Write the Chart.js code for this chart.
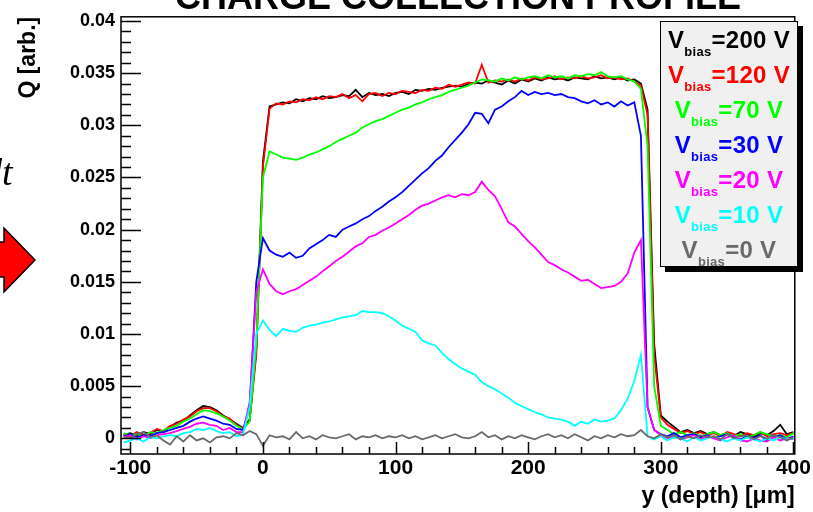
<!DOCTYPE html>
<html>
<head>
<meta charset="utf-8">
<title>Charge collection profile</title>
<script src="https://cdn.jsdelivr.net/npm/chart.js@4.4.1/dist/chart.umd.min.js"></script>
<style>
  html, body { margin: 0; padding: 0; background: #fff; }
  .page { position: relative; width: 813px; height: 512px; overflow: hidden; font-family: "Liberation Sans", Arial, sans-serif; }
  .page canvas { position: absolute; left: 0; top: 0; }
  .slide-title { position: absolute; left: 458px; top: -21px; transform: translateX(-50%); font-size: 36px; line-height: 36px; font-weight: 700; white-space: nowrap; color: #000; }
  .slide-dt { position: absolute; left: -17px; top: 150px; font-family: "Liberation Serif", "Times New Roman", serif; font-style: italic; font-size: 38px; line-height: 44px; color: #000; }
  .slide-arrow { position: absolute; left: 0; top: 0; }
  .legend { position: absolute; left: 660px; top: 21px; width: 136px; height: 244px; background: #f0f0f0; border: 1.5px solid #000; box-shadow: 5px 5px 0 #000; text-align: center; }
  .legend__row { height: 35px; line-height: 35px; font-size: 24px; font-weight: 700; white-space: nowrap; letter-spacing: 0.3px; }
  .legend__sub { position: relative; top: 8px; font-size: 13px; }
</style>
</head>
<body>
<div class="page" id="page">
  <canvas id="profile" width="813" height="512"></canvas>
  <div class="slide-title">CHARGE COLLECTION PROFILE</div>
  <div class="slide-dt">dt</div>
  <svg class="slide-arrow" width="60" height="320">
    <polygon points="-5,242 4,242 4,228 35,260 4,292 4,277 -5,277" fill="#ff0000" stroke="#000" stroke-width="1.5" stroke-linejoin="miter"></polygon>
  </svg>
  <div class="legend" id="legend"></div>
</div>
<script>
// depth in um, bin centres every 5 um
const depth = [
  -105, -100, -95, -90, -85, -80, -75, -70, -65, -60,
  -55, -50, -45, -40, -35, -30, -25, -20, -15, -10,
  -5, 0, 5, 10, 15, 20, 25, 30, 35, 40,
  45, 50, 55, 60, 65, 70, 75, 80, 85, 90,
  95, 100, 105, 110, 115, 120, 125, 130, 135, 140,
  145, 150, 155, 160, 165, 170, 175, 180, 185, 190,
  195, 200, 205, 210, 215, 220, 225, 230, 235, 240,
  245, 250, 255, 260, 265, 270, 275, 280, 285, 290,
  295, 300, 305, 310, 315, 320, 325, 330, 335, 340,
  345, 350, 355, 360, 365, 370, 375, 380, 385, 390,
  395, 400,
];

const q200 = [
  0.0003, 0.0005, 0.0002, 0.0006, 0.0004, 0.0008, 0.0006, 0.0011, 0.0015, 0.0017,
  0.0022, 0.0027, 0.0031, 0.0030, 0.0027, 0.0022, 0.0018, 0.0014, 0.0010, 0.0018,
  0.0085, 0.0265, 0.0318, 0.0320, 0.0322, 0.0321, 0.0325, 0.0323, 0.0326, 0.0325,
  0.0328, 0.0326, 0.0327, 0.0329, 0.0328, 0.0334, 0.0327, 0.0331, 0.0329, 0.0330,
  0.0328, 0.0331, 0.0332, 0.0330, 0.0334, 0.0333, 0.0335, 0.0334, 0.0336, 0.0337,
  0.0338, 0.0337, 0.0340, 0.0341, 0.0340, 0.0343, 0.0341, 0.0339, 0.0343, 0.0340,
  0.0344, 0.0342, 0.0345, 0.0343, 0.0346, 0.0344, 0.0345, 0.0343, 0.0346, 0.0345,
  0.0344, 0.0347, 0.0345, 0.0346, 0.0344, 0.0346, 0.0343, 0.0344, 0.0340, 0.0315,
  0.0090, 0.0022, 0.0016, 0.0011, 0.0006, 0.0008, 0.0005, 0.0007, 0.0004, 0.0006,
  0.0003, 0.0005, 0.0002, 0.0006, 0.0004, 0.0001, 0.0005, 0.0003, 0.0007, 0.0013,
  0.0004, 0.0006,
];

const q120 = [
  0.0004, 0.0002, 0.0006, 0.0003, 0.0005, 0.0009, 0.0007, 0.0012, 0.0014, 0.0018,
  0.0021, 0.0026, 0.0029, 0.0029, 0.0026, 0.0021, 0.0019, 0.0013, 0.0009, 0.0017,
  0.0080, 0.0260, 0.0316, 0.0321, 0.0320, 0.0323, 0.0322, 0.0325, 0.0324, 0.0327,
  0.0325, 0.0328, 0.0327, 0.0330, 0.0326, 0.0329, 0.0323, 0.0330, 0.0331, 0.0328,
  0.0331, 0.0330, 0.0333, 0.0332, 0.0331, 0.0334, 0.0333, 0.0336, 0.0335, 0.0339,
  0.0337, 0.0339, 0.0341, 0.0340, 0.0358, 0.0341, 0.0343, 0.0342, 0.0344, 0.0342,
  0.0345, 0.0343, 0.0346, 0.0344, 0.0345, 0.0347, 0.0344, 0.0346, 0.0345, 0.0347,
  0.0345, 0.0346, 0.0348, 0.0345, 0.0346, 0.0344, 0.0345, 0.0342, 0.0338, 0.0310,
  0.0080, 0.0020, 0.0013, 0.0009, 0.0005, 0.0007, 0.0004, 0.0006, 0.0003, 0.0005,
  0.0002, 0.0006, 0.0004, 0.0002, 0.0005, 0.0003, 0.0006, 0.0002, 0.0004, 0.0005,
  0.0003, 0.0005,
];

const q70 = [
  0.0005, 0.0003, 0.0004, 0.0002, 0.0006, 0.0005, 0.0008, 0.0010, 0.0012, 0.0016,
  0.0019, 0.0023, 0.0027, 0.0026, 0.0024, 0.0021, 0.0017, 0.0012, 0.0009, 0.0016,
  0.0090, 0.0250, 0.0275, 0.0272, 0.0269, 0.0268, 0.0267, 0.0269, 0.0272, 0.0274,
  0.0277, 0.0280, 0.0284, 0.0287, 0.0290, 0.0293, 0.0298, 0.0301, 0.0304, 0.0306,
  0.0309, 0.0312, 0.0315, 0.0317, 0.0320, 0.0322, 0.0325, 0.0327, 0.0329, 0.0332,
  0.0334, 0.0336, 0.0338, 0.0341, 0.0344, 0.0343, 0.0342, 0.0345, 0.0343, 0.0346,
  0.0344, 0.0346, 0.0347, 0.0345, 0.0348, 0.0346, 0.0347, 0.0345, 0.0348, 0.0347,
  0.0349, 0.0348, 0.0351, 0.0347, 0.0346, 0.0347, 0.0344, 0.0342, 0.0335, 0.0280,
  0.0050, 0.0012, 0.0008, 0.0004, 0.0006, 0.0003, 0.0005, 0.0002, 0.0004, 0.0006,
  0.0003, 0.0005, 0.0002, 0.0004, 0.0001, 0.0003, 0.0006, 0.0004, 0.0002, 0.0003,
  0.0001, 0.0005,
];

const q30 = [
  0.0002, 0.0004, 0.0001, 0.0003, 0.0002, 0.0005, 0.0006, 0.0008, 0.0010, 0.0012,
  0.0016, 0.0019, 0.0021, 0.0019, 0.0017, 0.0014, 0.0013, 0.0009, 0.0008, 0.0030,
  0.0150, 0.0192, 0.0180, 0.0176, 0.0174, 0.0178, 0.0173, 0.0175, 0.0182, 0.0186,
  0.0190, 0.0195, 0.0193, 0.0200, 0.0203, 0.0206, 0.0210, 0.0213, 0.0218, 0.0222,
  0.0227, 0.0231, 0.0236, 0.0242, 0.0248, 0.0254, 0.0259, 0.0266, 0.0271, 0.0279,
  0.0286, 0.0293, 0.0301, 0.0312, 0.0311, 0.0302, 0.0315, 0.0318, 0.0323, 0.0327,
  0.0333, 0.0329, 0.0332, 0.0330, 0.0331, 0.0329, 0.0330, 0.0327, 0.0326, 0.0323,
  0.0321, 0.0324, 0.0320, 0.0322, 0.0318, 0.0323, 0.0319, 0.0322, 0.0290, 0.0030,
  0.0008, 0.0004, 0.0002, 0.0005, 0.0001, 0.0003, 0.0004, 0.0001, 0.0003, 0.0000,
  0.0002, 0.0004, 0.0001, -0.0001, 0.0002, 0.0000, 0.0003, -0.0002, 0.0001, 0.0003,
  -0.0001, 0.0002,
];

const q20 = [
  0.0001, 0.0003, -0.0001, 0.0002, 0.0000, 0.0003, 0.0004, 0.0005, 0.0007, 0.0009,
  0.0011, 0.0014, 0.0015, 0.0013, 0.0012, 0.0008, 0.0010, 0.0006, 0.0006, 0.0035,
  0.0140, 0.0162, 0.0148, 0.0141, 0.0138, 0.0141, 0.0143, 0.0147, 0.0151, 0.0155,
  0.0160, 0.0165, 0.0170, 0.0174, 0.0179, 0.0184, 0.0187, 0.0193, 0.0195, 0.0199,
  0.0202, 0.0206, 0.0210, 0.0214, 0.0219, 0.0223, 0.0225, 0.0228, 0.0231, 0.0233,
  0.0231, 0.0234, 0.0233, 0.0236, 0.0246, 0.0238, 0.0232, 0.0220, 0.0207, 0.0203,
  0.0196, 0.0189, 0.0183, 0.0176, 0.0169, 0.0166, 0.0162, 0.0159, 0.0155, 0.0151,
  0.0152, 0.0148, 0.0144, 0.0145, 0.0146, 0.0150, 0.0158, 0.0178, 0.0190, 0.0030,
  0.0008, 0.0003, 0.0000, 0.0002, -0.0001, 0.0001, 0.0003, -0.0001, 0.0002, 0.0000,
  -0.0002, 0.0001, 0.0003, -0.0002, -0.0003, 0.0000, -0.0002, -0.0003, 0.0001, -0.0002,
  0.0000, -0.0001,
];

const q10 = [
  -0.0004, -0.0002, 0.0000, -0.0003, 0.0001, 0.0000, 0.0002, 0.0003, 0.0002, 0.0005,
  0.0006, 0.0009, 0.0008, 0.0010, 0.0007, 0.0005, 0.0006, 0.0002, 0.0004, 0.0030,
  0.0100, 0.0113, 0.0104, 0.0098, 0.0105, 0.0103, 0.0102, 0.0106, 0.0108, 0.0109,
  0.0111, 0.0112, 0.0114, 0.0116, 0.0117, 0.0118, 0.0122, 0.0121, 0.0121, 0.0120,
  0.0117, 0.0113, 0.0108, 0.0105, 0.0102, 0.0094, 0.0091, 0.0089, 0.0082, 0.0076,
  0.0071, 0.0067, 0.0064, 0.0061, 0.0054, 0.0050, 0.0047, 0.0043, 0.0039, 0.0034,
  0.0031, 0.0028, 0.0025, 0.0023, 0.0020, 0.0019, 0.0018, 0.0016, 0.0012, 0.0016,
  0.0014, 0.0018, 0.0016, 0.0017, 0.0019, 0.0027, 0.0038, 0.0055, 0.0080, 0.0002,
  -0.0001, 0.0002, -0.0002, 0.0001, 0.0000, -0.0003, 0.0001, -0.0002, 0.0000, 0.0002,
  -0.0001, -0.0003, 0.0000, -0.0002, 0.0001, -0.0001, -0.0003, 0.0000, -0.0002, 0.0001,
  -0.0001, 0.0000,
];

const q0 = [
  0.0002, 0.0000, 0.0004, 0.0006, 0.0001, 0.0003, -0.0002, -0.0006, 0.0002, -0.0003,
  0.0003, -0.0002, 0.0000, -0.0004, 0.0001, 0.0002, 0.0000, 0.0005, 0.0003, 0.0007,
  0.0004, -0.0007, 0.0003, 0.0001, 0.0002, -0.0001, 0.0006, 0.0000, 0.0002, -0.0001,
  0.0003, 0.0001, 0.0000, 0.0002, 0.0004, -0.0001, 0.0002, 0.0001, 0.0003, 0.0000,
  0.0002, 0.0001, 0.0003, 0.0000, 0.0002, -0.0001, 0.0001, 0.0003, 0.0000, 0.0002,
  0.0004, 0.0001, 0.0000, 0.0002, 0.0006, 0.0001, 0.0003, -0.0001, 0.0002, 0.0000,
  0.0003, 0.0001, -0.0001, 0.0002, 0.0004, 0.0001, 0.0003, 0.0000, 0.0004, 0.0001,
  -0.0002, 0.0002, 0.0000, 0.0003, 0.0001, 0.0004, 0.0002, 0.0003, 0.0008, 0.0002,
  0.0000, 0.0004, 0.0001, 0.0003, -0.0001, 0.0002, 0.0000, 0.0003, 0.0001, 0.0002,
  -0.0001, 0.0004, 0.0000, 0.0002, 0.0003, -0.0001, 0.0002, 0.0000, 0.0003, 0.0001,
  -0.0002, 0.0001,
];

const biasVolts = [200, 120, 70, 30, 20, 10, 0];
const biasColors = ['#000000', '#ff0000', '#00ff00', '#0000ff', '#ff00ff', '#00ffff', '#6a6a6a'];
const profiles = [q200, q120, q70, q30, q20, q10, q0];

const xTicks = [-100, 0, 100, 200, 300, 400];
const yTicks = [0, 0.005, 0.01, 0.015, 0.02, 0.025, 0.03, 0.035, 0.04];

// ROOT-like frame with inward ticks
const rootFrame = {
  id: 'rootFrame',
  afterDraw(chart) {
    const { ctx, chartArea: area, scales } = chart;
    ctx.save();
    ctx.strokeStyle = '#000';
    ctx.lineWidth = 1.5;
    ctx.strokeRect(area.left, area.top, area.right - area.left, area.bottom - area.top);

    ctx.beginPath();
    for (let v = -100; v <= 400; v += 20) {
      const px = Math.round(scales.x.getPixelForValue(v)) + 0.5;
      const len = v % 100 === 0 ? 12 : 7;
      ctx.moveTo(px, area.bottom);
      ctx.lineTo(px, area.bottom - len);
    }
    for (let k = -1; k <= 40; k++) {
      const py = Math.round(scales.y.getPixelForValue(k / 1000)) + 0.5;
      const len = k % 5 === 0 ? 20 : 10;
      ctx.moveTo(area.left, py);
      ctx.lineTo(area.left + len, py);
    }
    ctx.stroke();
    ctx.restore();
  },
};

function buildLegend() {
  const legend = document.getElementById('legend');
  biasVolts.forEach((volt, i) => {
    const row = document.createElement('div');
    row.className = 'legend__row';
    row.style.color = biasColors[i];
    row.innerHTML = 'V<span class="legend__sub">bias</span>=' + volt + ' V';
    legend.appendChild(row);
  });
}

const datasets = profiles.map((values, i) => ({
  label: 'Vbias=' + biasVolts[i] + ' V',
  data: values.map((q, j) => ({ x: depth[j], y: q })),
  borderColor: biasColors[i],
  borderWidth: 1.8,
  pointRadius: 0,
  tension: 0,
  fill: false,
  order: profiles.length - i,
}));

const tickFontY = { family: "'Liberation Sans', Arial, sans-serif", weight: 700, size: 18 };
const tickFontX = { family: "'Liberation Sans', Arial, sans-serif", weight: 700, size: 21 };
const titleFont = { family: "'Liberation Sans', Arial, sans-serif", weight: 700, size: 23 };

new Chart(document.getElementById('profile'), {
  type: 'line',
  data: { datasets },
  options: {
    responsive: false,
    animation: false,
    devicePixelRatio: 1,
    layout: { padding: { top: 16, right: 17, left: 0, bottom: 0 } },
    scales: {
      x: {
        type: 'linear',
        min: -107,
        max: 401,
        grid: { display: false, drawTicks: false },
        border: { display: false },
        afterBuildTicks: (scale) => { scale.ticks = xTicks.map((v) => ({ value: v })); },
        ticks: {
          autoSkip: false,
          maxRotation: 0,
          padding: 2,
          color: '#000',
          font: tickFontX,
          callback: (v) => String(v),
        },
        title: {
          display: true,
          text: 'y (depth) [μm]',
          align: 'end',
          color: '#000',
          font: titleFont,
          padding: { top: 0, bottom: 2 },
        },
        afterFit: (scale) => { scale.height = 58; },
      },
      y: {
        type: 'linear',
        min: -0.0015,
        max: 0.0404,
        grid: { display: false, drawTicks: false },
        border: { display: false },
        afterBuildTicks: (scale) => { scale.ticks = yTicks.map((v) => ({ value: v })); },
        ticks: {
          autoSkip: false,
          padding: 6,
          color: '#000',
          font: tickFontY,
          callback: (v) => String(parseFloat(v.toFixed(4))),
        },
        title: {
          display: true,
          text: 'Q [arb.]',
          align: 'end',
          color: '#000',
          font: titleFont,
          padding: { top: 15, bottom: 0 },
        },
        afterFit: (scale) => { scale.width = 121; },
      },
    },
    plugins: {
      legend: { display: false },
      tooltip: { enabled: false },
    },
  },
  plugins: [rootFrame],
});

buildLegend();
</script>
</body>
</html>
